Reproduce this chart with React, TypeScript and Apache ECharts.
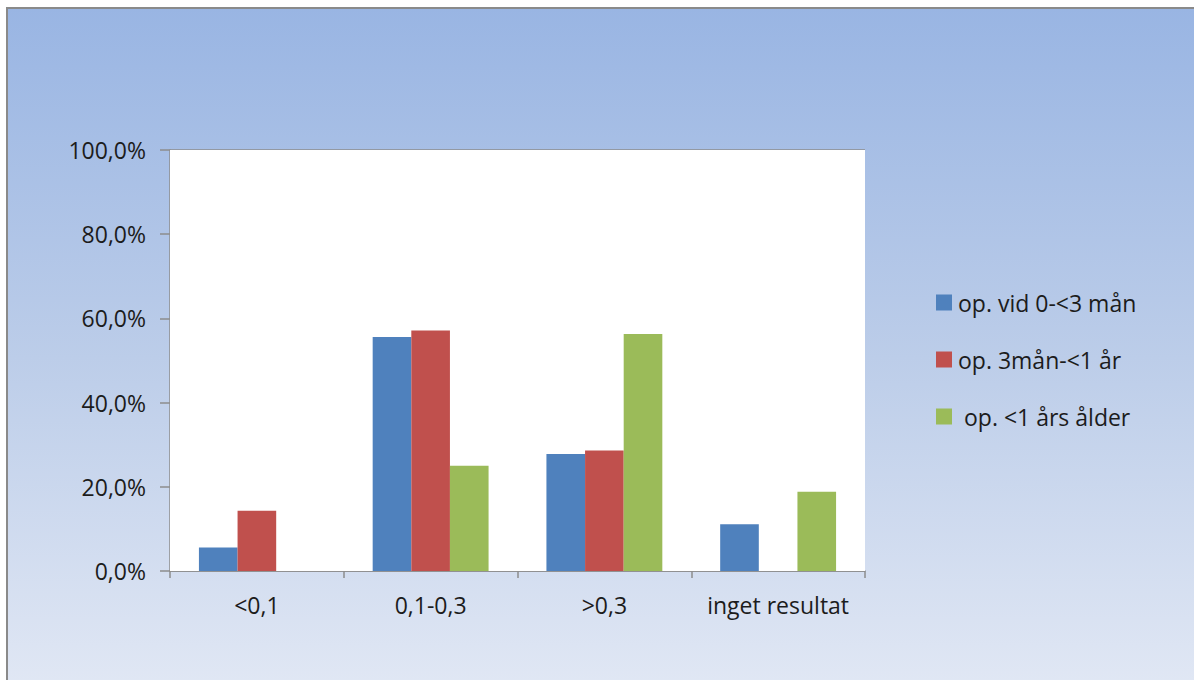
import React, { useEffect, useRef } from "react";
import * as echarts from "echarts";

// Follow-up outcome per age group at operation (share of each group, %)
const categories = ["<0,1", "0,1-0,3", ">0,3", "inget resultat"];
const seriesNames = ["op. vid 0-<3 mån", "op. 3mån-<1 år", " op. <1 års ålder"];
const group0to3m = [5.6, 55.6, 27.8, 11.1];
const group3mTo1y = [14.3, 57.1, 28.6, 0];
const groupUnder1y = [0, 25.0, 56.3, 18.8];
const yTicks = { min: 0, max: 100, interval: 20 };

const colors = ["#4f81bd", "#c0504d", "#9bbb59"];
const FONT = "'Open Sans', 'Noto Sans', sans-serif";
const TEXT = "#1c1c1c";

export default function App() {
  const ref = useRef<HTMLDivElement>(null);

  useEffect(() => {
    if (!ref.current) return;
    const chart = echarts.init(ref.current, null, { renderer: "svg" });
    const values = [group0to3m, group3mTo1y, groupUnder1y];

    chart.setOption({
      animation: false,
      backgroundColor: "#ffffff",
      graphic: [
        {
          type: "rect",
          z: 0,
          silent: true,
          shape: { x: 7, y: 8, width: 1200, height: 700 },
          style: {
            fill: new echarts.graphic.LinearGradient(0, 0, 0, 1, [
              { offset: 0, color: "#99b5e3" },
              { offset: 0.5, color: "#bccde9" },
              { offset: 1, color: "#e3e9f5" },
            ]),
            stroke: "#8a8a8a",
            lineWidth: 2,
          },
        },
      ],
      grid: {
        left: 170,
        right: 329,
        top: 150,
        bottom: 109,
        show: true,
        backgroundColor: "#ffffff",
        borderWidth: 0,
        z: 2,
      },
      legend: {
        orient: "vertical",
        left: 931,
        top: 286,
        itemWidth: 16,
        itemHeight: 16,
        itemGap: 34,
        icon: "rect",
        textStyle: { fontFamily: FONT, fontSize: 23, color: TEXT, lineHeight: 23, padding: [0, 0, 0, 1] },
        data: seriesNames,
      },
      xAxis: {
        type: "category",
        data: categories,
        axisLine: { show: true, lineStyle: { color: "#8c8c8c", width: 1.5 } },
        axisTick: { show: true, interval: 0, length: 7, lineStyle: { color: "#8c8c8c", width: 1.5 } },
        axisLabel: { interval: 0, fontFamily: FONT, fontSize: 23, color: TEXT, margin: 22 },
      },
      yAxis: {
        type: "value",
        min: yTicks.min,
        max: yTicks.max,
        interval: yTicks.interval,
        axisLine: { show: true, lineStyle: { color: "#8c8c8c", width: 1.5 } },
        axisTick: { show: true, length: 10, lineStyle: { color: "#8c8c8c", width: 1.5 } },
        splitLine: { show: true, lineStyle: { color: "#8c8c8c", width: 1.5 } },
        axisLabel: {
          fontFamily: FONT,
          fontSize: 23,
          color: TEXT,
          margin: 24,
          formatter: (v: number) => v.toFixed(1).replace(".", ",") + "%",
        },
      },
      series: seriesNames.map((name, i) => ({
        name,
        type: "bar",
        data: values[i],
        barGap: "0%",
        barCategoryGap: "33.3%",
        itemStyle: { color: colors[i] },
      })),
    });

    return () => chart.dispose();
  }, []);

  return (
    <div
      ref={ref}
      style={{ position: "fixed", left: 0, top: 0, width: 1194, height: 680 }}
    />
  );
}
